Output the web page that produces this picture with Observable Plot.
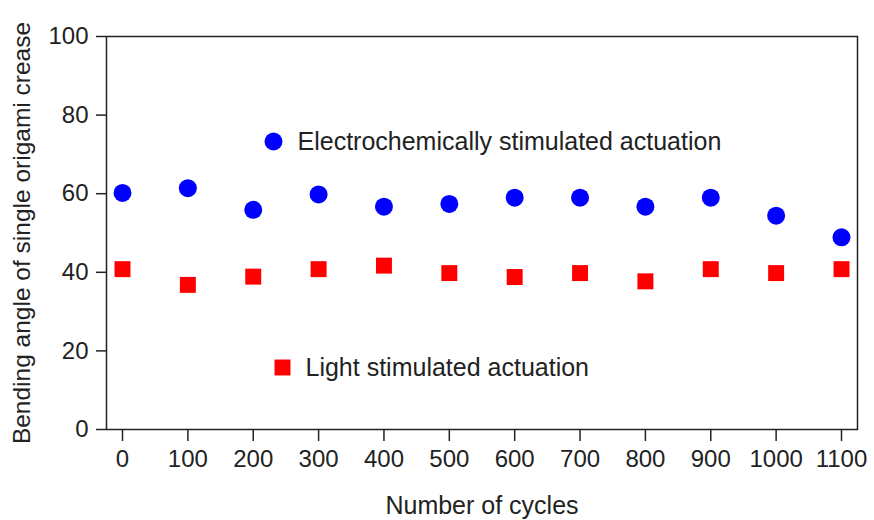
<!DOCTYPE html>
<html>
<head>
<meta charset="utf-8">
<script src="https://cdn.jsdelivr.net/npm/d3@7"></script>
<script src="https://cdn.jsdelivr.net/npm/@observablehq/plot@0.6"></script>
<style>
  html, body { margin: 0; padding: 0; background: #fff; }
  #chart svg { font-family: "Liberation Sans", Arial, sans-serif; }
  #chart svg g[aria-label="y-axis tick label"] text,
  #chart svg g[aria-label="x-axis tick label"] text { font-size: 24px; }
  #chart svg g[aria-label="y-axis tick label"],
  #chart svg g[aria-label="x-axis tick label"] { font-size: 24px; }
</style>
</head>
<body>
<div id="chart"></div>
<script>
const cycles = [0, 100, 200, 300, 400, 500, 600, 700, 800, 900, 1000, 1100];
const electroValues = [60.2, 61.4, 55.9, 59.8, 56.7, 57.4, 59.0, 59.0, 56.7, 59.0, 54.4, 48.9];
const lightValues = [40.8, 36.8, 38.9, 40.8, 41.7, 39.8, 38.8, 39.8, 37.7, 40.8, 39.8, 40.8];
const yTicks = [0, 20, 40, 60, 80, 100];
const seriesNames = ["Electrochemically stimulated actuation", "Light stimulated actuation"];
const xLabel = "Number of cycles";
const yLabel = "Bending angle of single origami crease";

const electro = cycles.map((c, i) => ({cycle: c, angle: electroValues[i]}));
const light = cycles.map((c, i) => ({cycle: c, angle: lightValues[i]}));

const chart = Plot.plot({
  width: 874,
  height: 520,
  marginLeft: 106,
  marginRight: 17,
  marginTop: 36,
  marginBottom: 91,
  style: {fontSize: "24px", color: "#222", background: "#fff"},
  x: {domain: [0, 1100], insetLeft: 16, insetRight: 16},
  y: {domain: [0, 100]},
  marks: [
    Plot.frame({stroke: "#222", strokeWidth: 1.5}),
    Plot.axisY({ticks: yTicks, tickSize: 10, tickPadding: 8, label: null, fontSize: 24, strokeWidth: 1.5}),
    Plot.axisX({ticks: cycles, tickSize: 12, tickPadding: 8, label: null, fontSize: 24, strokeWidth: 1.5, tickFormat: d => String(d)}),
    Plot.text([yLabel], {frameAnchor: "left", dx: -84, rotate: -90, textAnchor: "middle", lineAnchor: "middle", fontSize: 24.5, fill: "#222"}),
    Plot.text([xLabel], {frameAnchor: "bottom", dy: 76, textAnchor: "middle", lineAnchor: "middle", fontSize: 25, fill: "#222"}),
    Plot.dot(electro, {x: "cycle", y: "angle", r: 9, fill: "#0000ff", symbol: "circle"}),
    Plot.dot(light, {x: "cycle", y: "angle", r: 9, fill: "#ff0000", symbol: "square"}),
    Plot.dot([seriesNames[0]], {frameAnchor: "top-left", dx: 167, dy: 105, r: 9, fill: "#0000ff", symbol: "circle"}),
    Plot.text([seriesNames[0]], {frameAnchor: "top-left", dx: 191, dy: 105, textAnchor: "start", lineAnchor: "middle", fontSize: 25, fill: "#222"}),
    Plot.dot([seriesNames[1]], {frameAnchor: "top-left", dx: 176, dy: 331, r: 9, fill: "#ff0000", symbol: "square"}),
    Plot.text([seriesNames[1]], {frameAnchor: "top-left", dx: 199, dy: 331, textAnchor: "start", lineAnchor: "middle", fontSize: 25, fill: "#222"})
  ]
});
document.getElementById("chart").appendChild(chart);
</script>
</body>
</html>
